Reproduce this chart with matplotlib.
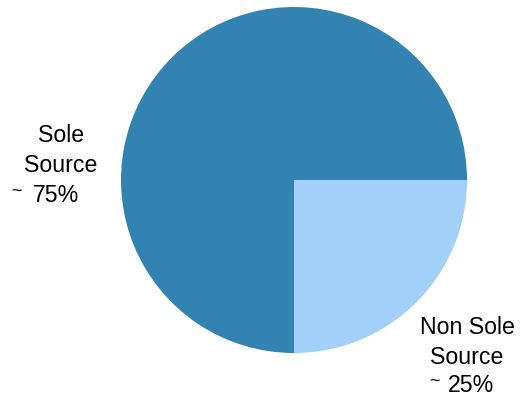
import matplotlib
matplotlib.use("Agg")
import matplotlib.pyplot as plt

plt.rcParams['font.family'] = ['Liberation Sans', 'DejaVu Sans']

categories = ["Sole Source", "Non Sole Source"]
shares = [75, 25]
colors = ["#3283b1", "#a3d0fb"]

W, H = 531, 401
fig = plt.figure(figsize=(W / 100, H / 100), dpi=100)

# pie centred at (294, 180) px with a radius of 173 px
cx, cy, r = 294, 180, 173
ax = fig.add_axes([(cx - r) / W, (H - cy - r) / H, 2 * r / W, 2 * r / H])
ax.pie(shares, colors=colors, startangle=0, counterclock=True,
       wedgeprops=dict(linewidth=0))
ax.set_xlim(-1, 1)
ax.set_ylim(-1, 1)
ax.set_aspect('auto')
ax.axis('off')


def px(x, y):
    return x / W, 1 - y / H


def label(name_lines, value, x, y0, step, pct_x, tilde_x):
    for i, line in enumerate(name_lines):
        fig.text(*px(x, y0 + step * i), line, fontsize=16.7, ha='center', va='center')
    ypct = y0 + step * len(name_lines)
    fig.text(*px(pct_x, ypct), f"{value}%", fontsize=16.7, ha='left', va='center')
    fig.text(*px(tilde_x, ypct - 5), "~", fontsize=13, ha='left', va='center')


label(["Sole", "Source"], shares[0], 61, 135, 30.5, 33, 11)
label(["Non Sole", "Source"], shares[1], 467, 328, 29, 448, 429)

fig.savefig("out.png", dpi=100)
